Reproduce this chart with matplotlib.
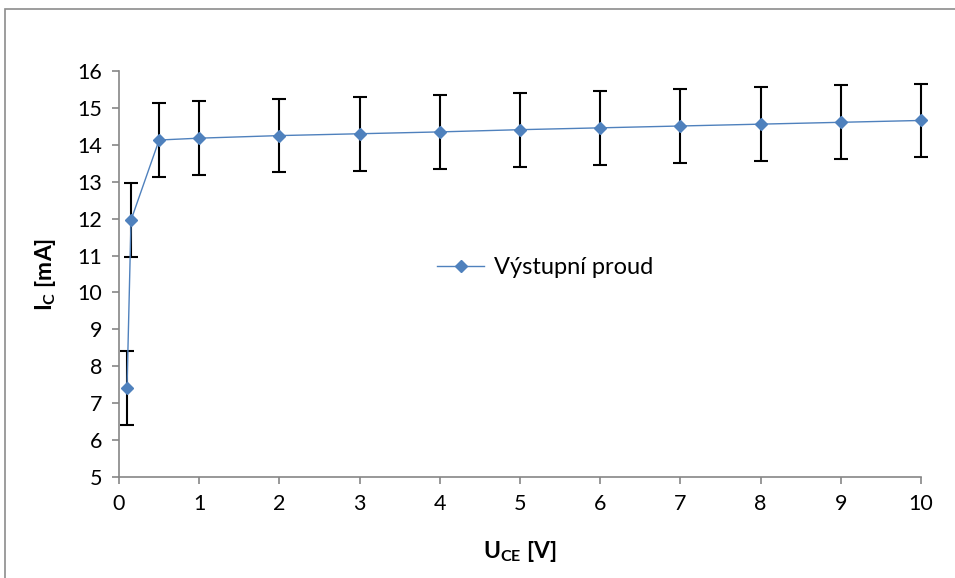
import matplotlib
matplotlib.use("Agg")
import matplotlib.pyplot as plt
from matplotlib.patches import Rectangle

# Data
u_ce = [0.1, 0.15, 0.5, 1, 2, 3, 4, 5, 6, 7, 8, 9, 10]
i_c = [7.42, 11.96, 14.13, 14.18, 14.25, 14.30, 14.35, 14.41, 14.46, 14.51, 14.56, 14.61, 14.66]
err = [1.0] * len(u_ce)
series_name = "Výstupní proud"
x_ticks = list(range(0, 11))
y_ticks = list(range(5, 17))

plt.rcParams['font.family'] = ['Lato', 'DejaVu Sans']
plt.rcParams['mathtext.fontset'] = 'custom'
plt.rcParams['mathtext.rm'] = 'Lato'
plt.rcParams['mathtext.bf'] = 'Lato:bold'

W, H = 955, 578
fig = plt.figure(figsize=(W / 100, H / 100), dpi=100)
fig.patch.set_facecolor('white')

# outer chart border
fig.add_artist(Rectangle((5 / W, -0.1), 1.2, (H - 9) / H + 0.1, transform=fig.transFigure,
                         fill=False, edgecolor='#8c8c8c', linewidth=1.2))

ax = fig.add_axes([119 / W, 1 - 477 / H, (921 - 119) / W, (477 - 71) / H])
eb = ax.errorbar(u_ce, i_c, yerr=err, fmt='none', ecolor='black', elinewidth=1.5,
                 capsize=5.2, capthick=1.5, zorder=2)
for art in eb.get_children():
    art.set_clip_on(False)
line, = ax.plot(u_ce, i_c, color='#4F81BD', linewidth=1.0, marker='D', markersize=6.5,
                markerfacecolor='#4F81BD', markeredgecolor='#4F81BD', label=series_name, zorder=3)
line.set_clip_on(False)

ax.set_xlim(0, 10)
ax.set_ylim(5, 16)
ax.set_xticks(x_ticks)
ax.set_yticks(y_ticks)
for s in ['top', 'right']:
    ax.spines[s].set_visible(False)
for s in ['left', 'bottom']:
    ax.spines[s].set_color('#868686')
    ax.spines[s].set_linewidth(1.2)
ax.tick_params(axis='both', direction='out', length=5, width=1.2, color='#868686',
               labelsize=15.5, labelcolor='black')
ax.tick_params(axis='x', pad=7)
ax.tick_params(axis='y', pad=7)

ax.set_xlabel(r'$\mathbf{U_{CE}}$ [V]', fontsize=16.5, fontweight='bold', labelpad=18)
ax.set_ylabel(r'$\mathbf{I_{C}}$ [mA]', fontsize=16.5, fontweight='bold', labelpad=14)

leg = ax.legend(loc='center left', bbox_to_anchor=(0.37, 0.515), frameon=False,
                fontsize=17, handlelength=2.0, handletextpad=0.4)

fig.savefig('out.png', dpi=100, facecolor='white')
